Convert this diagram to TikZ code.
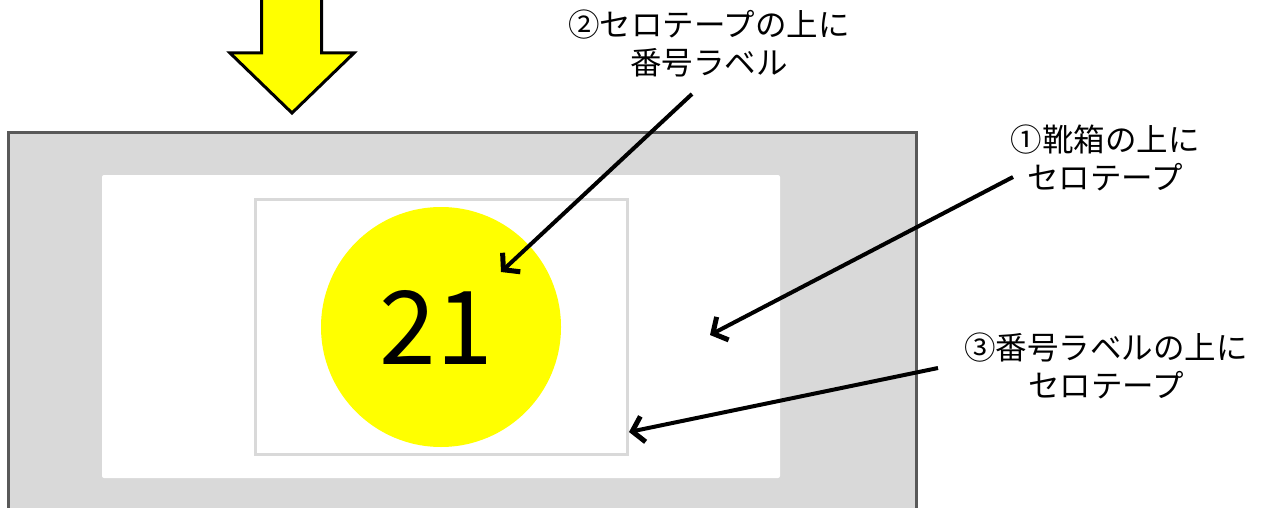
\documentclass[tikz,border=0pt]{standalone}
\usepackage{fontspec}
\newfontfamily\jp{Noto Sans CJK JP}
\usetikzlibrary{arrows.meta}
\definecolor{boxgray}{HTML}{D9D9D9}
\definecolor{boxedge}{HTML}{595959}
\definecolor{tapeedge}{HTML}{D9D9D9}
\definecolor{labelyellow}{HTML}{FFFF00}
\begin{document}
\begin{tikzpicture}[x=1pt,y=-1pt,
  lbl/.style={font=\jp\fontsize{31.5}{38}\selectfont, align=center, inner sep=0pt},
  pointer/.style={line width=4pt, -{Straight Barb[length=11pt,width=26pt,line width=5pt]}},
]
\useasboundingbox (0,0) rectangle (1269,508);
\begin{scope}
  \clip (0,0) rectangle (1269,508);
  % shoe box
  \draw[line width=3pt, draw=boxedge, fill=boxgray] (8.5,132.5) rectangle (916.5,509.5);
  % cellophane tape on the box (white)
  \fill[white, rounded corners=2pt] (102,175) rectangle (780,478);
  % tape on top of label
  \draw[line width=3pt, draw=tapeedge] (255.5,199.5) rectangle (627.5,454);
  % number label
  \node[circle, fill=labelyellow, minimum size=240pt, inner sep=0pt] (num) at (441,327) {};
  \node[font=\jp\fontsize{102}{102}\selectfont, inner sep=0pt] (numtext) at (436,327) {21};
  % big yellow arrow
  \draw[line width=3pt, line join=miter, fill=labelyellow]
    (261.5,-10) -- (261.5,53) -- (230,53) -- (292,113) -- (354,53) -- (321.5,53) -- (321.5,-10) -- cycle;
\end{scope}
% labels
\node[lbl] (l2) at (709,43) {②セロテープの上に\\番号ラベル};
\node[lbl] (l1) at (1105,158) {①靴箱の上に\\セロテープ};
\node[lbl] (l3) at (1106,366) {③番号ラベルの上に\\セロテープ};
% connector ends
\coordinate (s2) at (692,94);
\coordinate (t2) at (501,272);
\coordinate (s1) at (1013,177);
\coordinate (t1) at (710,335);
\coordinate (s3) at (938,368);
\coordinate (t3) at (629,432);
\draw[pointer] (s2) -- (t2);
\draw[pointer] (s1) -- (t1);
\draw[pointer] (s3) -- (t3);
\end{tikzpicture}
\end{document}
